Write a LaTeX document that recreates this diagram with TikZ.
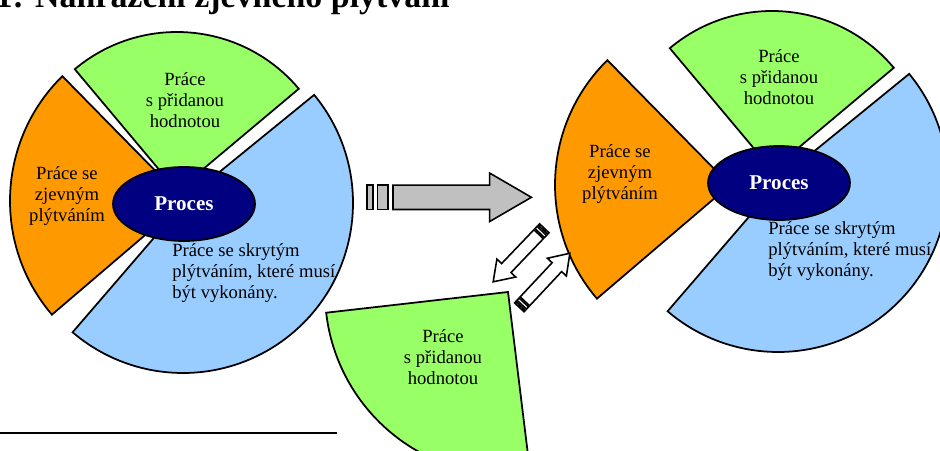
\documentclass[tikz,border=0pt]{standalone}
\usepackage{fontspec}
\setmainfont{Liberation Serif}
\usetikzlibrary{calc,shapes.geometric}

\definecolor{addgreen}{HTML}{99FF66}
\definecolor{wasteorange}{HTML}{FF9900}
\definecolor{hiddenblue}{HTML}{99CCFF}
\definecolor{procnavy}{HTML}{000080}
\definecolor{arrowgrey}{HTML}{C0C0C0}

\begin{document}
\begin{tikzpicture}[
  x=0.02cm, y=0.02cm,
  font=\fontsize{10.6pt}{11.9pt}\selectfont,
  slice/.style={draw=black, line width=1pt, line join=miter},
  valueadd/.style={slice, fill=addgreen},
  obvious/.style={slice, fill=wasteorange},
  hidden/.style={slice, fill=hiddenblue},
  proc/.style={
    ellipse,
    draw=black,
    line width=1pt,
    fill=procnavy,
    text=white,
    inner sep=0pt,
    minimum width=2.84cm,
    minimum height=1.48cm,
    font=\bfseries\fontsize{12pt}{14pt}\selectfont,
  },
  txt/.style={align=center, inner sep=0pt},
  arrowline/.style={draw=black, line width=0.9pt, line join=miter},
  bigarrow/.pic={
    \filldraw[arrowline, fill=arrowgrey] (0,-12.2) rectangle (6,12.2);
    \filldraw[arrowline, fill=arrowgrey] (10.4,-12.2) rectangle (21,12.2);
    \filldraw[arrowline, fill=arrowgrey] (26,-12.2) -- (122.7,-12.2) -- (122.7,-24.2)
      -- (164.4,0) -- (122.7,24.2) -- (122.7,12.2) -- (26,12.2) -- cycle;
  },
  smallarrow/.pic={
    \filldraw[arrowline, fill=white] (0,-6.5) rectangle (2,6.5);
    \filldraw[arrowline, fill=white] (3.6,-6.5) rectangle (6.6,6.5);
    \filldraw[arrowline, fill=white] (8.2,-6.5) -- (55,-6.5) -- (55,-13)
      -- (74,0) -- (55,13) -- (55,6.5) -- (8.2,6.5) -- cycle;
  },
]

  \useasboundingbox (0,0) rectangle (940,-450);
  \clip (0,0) rectangle (940,-450);

  % --- caption, cut at the top edge ---
  \node[inner sep=0pt, anchor=base east, font=\bfseries\fontsize{19.3pt}{23pt}\selectfont] (title)
    at (450,-7.5) {Obr. 1: Nahrazení zjevného plýtvání};

  % --- Left: current process ---
  \filldraw[valueadd] (177,-191) -- ++(40:159) arc[start angle=40, end angle=130, radius=159] -- cycle;
  \filldraw[obvious] (185,-201) -- ++(134.5:175) arc[start angle=134.5, end angle=220.5, radius=175] -- cycle;
  \filldraw[hidden] (190,-196) -- ($(183,-203)+(39.5:170)$) arc[start angle=39.5, end angle=-130.5, radius=170] -- cycle;

  \node[proc] (procL) at (184,-204) {Proces};
  \node[txt] (addL) at (185,-100) {Práce\\s přidanou\\hodnotou};
  \node[txt] (obvL) at (67,-196) {Práce se\\zjevným\\plýtváním};
  \node[txt, align=left, anchor=west] (hidL) at (172,-273) {Práce se skrytým\\plýtváním, které musí\\být vykonány.};

  % --- Right: improved process ---
  \filldraw[valueadd] (772,-170) -- ++(40:159) arc[start angle=40, end angle=130, radius=159] -- cycle;
  \filldraw[obvious] (730,-185) -- ++(134.5:175) arc[start angle=134.5, end angle=220.5, radius=175] -- cycle;
  \filldraw[hidden] (785,-175) -- ($(778,-182)+(39.5:170)$) arc[start angle=39.5, end angle=-130.5, radius=170] -- cycle;

  \node[proc] (procR) at (779,-183) {Proces};
  \node[txt] (addR) at (779,-77) {Práce\\s přidanou\\hodnotou};
  \node[txt] (obvR) at (620,-174) {Práce se\\zjevným\\plýtváním};
  \node[txt, align=left, anchor=west] (hidR) at (768,-251) {Práce se skrytým\\plýtváním, které musí\\být vykonány.};

  % --- swapped-in value adding work ---
  \filldraw[valueadd] (508,-292) -- ++(186.5:183) arc[start angle=186.5, end angle=277, radius=183] -- cycle;
  \node[txt] (addNew) at (443,-357) {Práce\\s přidanou\\hodnotou};

  % --- block arrows ---
  \coordinate (shiftTail) at (367,-197.3);
  \coordinate (outTail) at (544.3,-228.3);
  \coordinate (inTail) at (519.3,-307.3);
  \pic at (shiftTail) {bigarrow};
  \pic[rotate=226.3] at (outTail) {smallarrow};
  \pic[rotate=46.9] at (inTail) {smallarrow};

  % --- footnote rule ---
  \coordinate (ruleL) at (0,-433);
  \coordinate (ruleR) at (337,-433);
  \draw[line width=1.1pt] (ruleL) -- (ruleR);

\end{tikzpicture}
\end{document}
